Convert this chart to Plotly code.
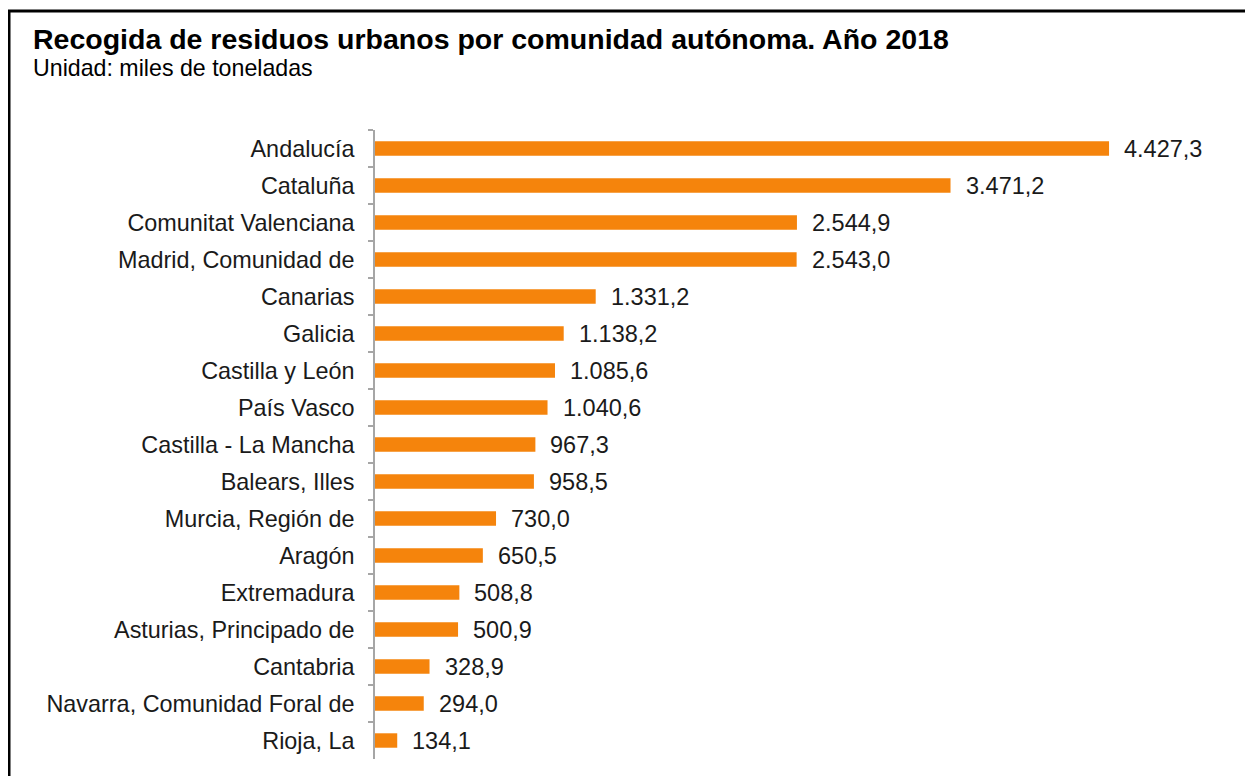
import plotly.graph_objects as go

categorias = ["Andalucía", "Cataluña", "Comunitat Valenciana", "Madrid, Comunidad de",
              "Canarias", "Galicia", "Castilla y León", "País Vasco", "Castilla - La Mancha",
              "Balears, Illes", "Murcia, Región de", "Aragón", "Extremadura",
              "Asturias, Principado de", "Cantabria", "Navarra, Comunidad Foral de", "Rioja, La"]
valores = [4427.3, 3471.2, 2544.9, 2543.0, 1331.2, 1138.2, 1085.6, 1040.6, 967.3,
           958.5, 730.0, 650.5, 508.8, 500.9, 328.9, 294.0, 134.1]

def fmt(v):
    s = f"{v:,.1f}"
    return s.replace(",", "X").replace(".", ",").replace("X", ".")

etiquetas = [fmt(v) for v in valores]

FONT = "Liberation Sans, Arial, sans-serif"
OFF = 8  # page body margin offset
PAGE_W, PAGE_H = 1253, 776
W, H = PAGE_W - OFF, PAGE_H - OFF
# desired page-pixel geometry
AX_X, PLOT_TOP, PLOT_BOT, PLOT_RIGHT = 375, 130, 759, 1240
ML = AX_X - OFF
MT = PLOT_TOP - OFF
MB = H - (PLOT_BOT - OFF)
MR = W - (PLOT_RIGHT - OFF)
PW = W - ML - MR
PH = H - MT - MB

fig = go.Figure()
fig.add_trace(go.Bar(
    x=valores, y=categorias, orientation="h",
    marker=dict(color="#F5840C", line=dict(width=0)),
    width=0.39, hoverinfo="skip",
))

for c, v, t in zip(categorias, valores, etiquetas):
    fig.add_annotation(x=v, y=c, text=t, showarrow=False, xanchor="left",
                       xshift=13, font=dict(size=23.5, color="#1a1a1a", family=FONT))

def px_x(p):
    return (p - OFF - ML) / PW

def px_y(p):
    return (H - MB - (p - OFF)) / PH

fig.add_annotation(xref="paper", yref="paper", x=px_x(31), y=px_y(39),
                   xanchor="left", yanchor="middle", showarrow=False,
                   text="<b>Recogida de residuos urbanos por comunidad autónoma. Año 2018</b>",
                   font=dict(size=28.5, color="#000000", family=FONT))
fig.add_annotation(xref="paper", yref="paper", x=px_x(31), y=px_y(68),
                   xanchor="left", yanchor="middle", showarrow=False,
                   text="Unidad: miles de toneladas",
                   font=dict(size=23.2, color="#000000", family=FONT))

fig.add_shape(type="rect", xref="paper", yref="paper",
              x0=px_x(9), x1=px_x(1300), y0=px_y(830), y1=px_y(11),
              line=dict(color="#000000", width=3), fillcolor="rgba(0,0,0,0)", layer="above")

fig.update_layout(
    width=W, height=H,
    margin=dict(l=ML, r=MR, t=MT, b=MB, pad=0),
    paper_bgcolor="white", plot_bgcolor="white",
    showlegend=False,
    font=dict(family=FONT, size=23.4, color="#1a1a1a"),
    xaxis=dict(range=[0, PW / 0.1658], visible=False, fixedrange=True),
    yaxis=dict(autorange="reversed", type="category", showline=True, linecolor="#A6A6A6",
               linewidth=1.5, ticks="outside", ticklen=5, tickcolor="#A6A6A6", tickwidth=1.5,
               tickson="boundaries", ticklabelstandoff=14, showgrid=False, zeroline=False,
               tickfont=dict(size=23.4, color="#1a1a1a")),
)

fig.write_html("out.html")
